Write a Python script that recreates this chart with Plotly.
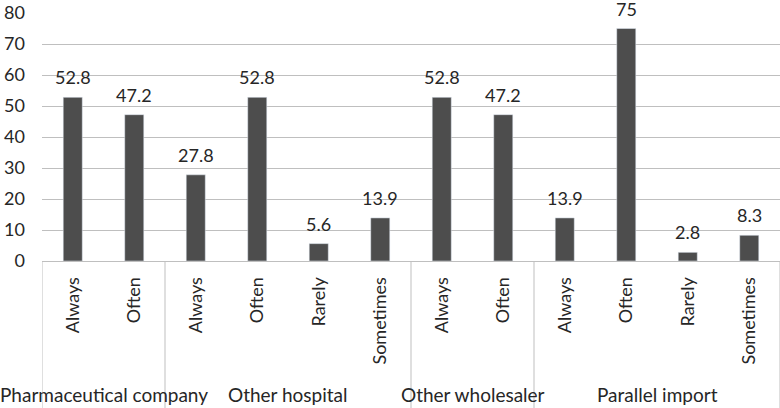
import plotly.graph_objects as go

groups = ["Pharmaceutical company", "Other hospital", "Other wholesaler", "Parallel import"]
subcats = [
    ["Always", "Often"],
    ["Always", "Often", "Rarely", "Sometimes"],
    ["Always", "Often"],
    ["Always", "Often", "Rarely", "Sometimes"],
]
values = [
    [52.8, 47.2],
    [27.8, 52.8, 5.6, 13.9],
    [52.8, 47.2],
    [13.9, 75, 2.8, 8.3],
]
y_ticks = [0, 10, 20, 30, 40, 50, 60, 70, 80]

FONT = "Lato"
FS = 18
TXT = "#262626"
BAR = "#4d4d4d"
GRID = "#bfbfbf"

xs, ys, labels = [], [], []
group_bounds = []
i = 0
for g, cats, vals in zip(groups, subcats, values):
    start = i
    for c, v in zip(cats, vals):
        xs.append(i)
        ys.append(v)
        labels.append(c)
        i += 1
    group_bounds.append((start - 0.5, i - 0.5))

fig = go.Figure()
fig.add_trace(go.Bar(x=xs, y=ys, marker_color=BAR, width=0.31, hoverinfo="skip"))

annotations = []
for x, y in zip(xs, ys):
    annotations.append(dict(x=x, y=y, xref="x", yref="y", text=f"{y:g}", showarrow=False,
                            yanchor="bottom", yshift=8, borderpad=0,
                            font=dict(family=FONT, size=FS, color=TXT)))
for g, (a, b) in zip(groups, group_bounds):
    annotations.append(dict(x=(a + b) / 2, y=-0.54, xref="x", yref="paper", text=g, showarrow=False,
                            yanchor="middle", font=dict(family=FONT, size=19, color=TXT)))

shapes = []
edges = sorted(set([e for ab in group_bounds for e in ab]))
for e in edges:
    shapes.append(dict(type="line", xref="x", yref="paper", x0=e, x1=e, y0=0, y1=-0.6,
                       line=dict(color=GRID, width=1)))

fig.update_layout(
    width=780, height=408,
    margin=dict(l=42, r=0, t=13, b=147),
    paper_bgcolor="white", plot_bgcolor="white",
    showlegend=False,
    font=dict(family=FONT, size=FS, color=TXT),
    annotations=annotations,
    shapes=shapes,
    xaxis=dict(range=[-0.5, len(xs) - 0.5], tickmode="array", tickvals=xs, ticktext=labels,
               tickangle=-90, showgrid=False, zeroline=False, showline=True, linecolor=GRID,
               ticks="", ticklabelstandoff=8, fixedrange=True),
    yaxis=dict(range=[0, 80], tickmode="array", tickvals=y_ticks, showgrid=True, gridcolor=GRID,
               gridwidth=1, zeroline=False, showline=False, ticks="", ticklabelstandoff=16,
               fixedrange=True),
)

fig.write_html("out.html")
